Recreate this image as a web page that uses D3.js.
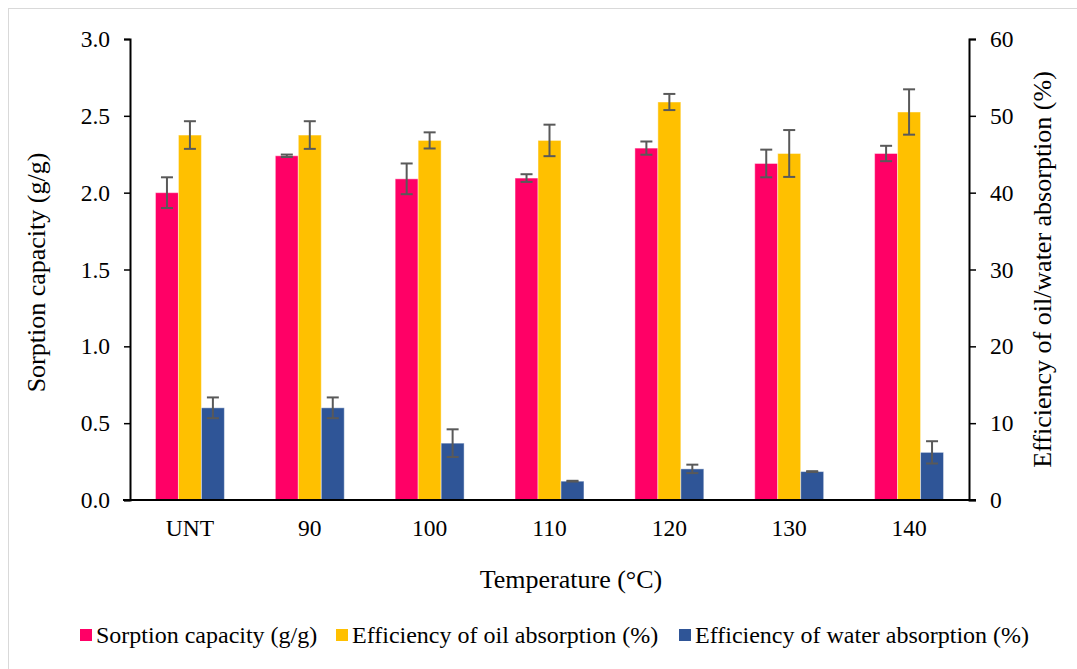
<!DOCTYPE html>
<html>
<head>
<meta charset="utf-8">
<script src="https://cdn.jsdelivr.net/npm/d3@7"></script>
<style>
  html, body { margin: 0; padding: 0; background: #fff; }
  svg { display: block; }
  text { font-family: "Liberation Serif", "Times New Roman", serif; fill: #000; }
</style>
</head>
<body>
<svg id="chart" width="1077" height="669"></svg>
<script>
// ---- data ----
const categories = ["UNT", "90", "100", "110", "120", "130", "140"];
const sorptionCapacity = [2.00, 2.24, 2.09, 2.095, 2.29, 2.19, 2.255];
const sorptionErr      = [0.10, 0.008, 0.10, 0.025, 0.043, 0.09, 0.05];
const oilEfficiency    = [47.5, 47.5, 46.8, 46.8, 51.8, 45.1, 50.5];
const oilErr           = [1.8, 1.8, 1.05, 2.05, 1.05, 3.05, 2.95];
const waterEfficiency  = [12.0, 12.0, 7.4, 2.45, 4.05, 3.7, 6.2];
const waterErr         = [1.35, 1.35, 1.8, 0.05, 0.55, 0.05, 1.45];
const leftTicks  = [0, 0.5, 1.0, 1.5, 2.0, 2.5, 3.0];
const rightTicks = [0, 10, 20, 30, 40, 50, 60];
const seriesNames = ["Sorption capacity (g/g)", "Efficiency of oil absorption (%)", "Efficiency of water absorption (%)"];
const seriesColors = ["#FF0066", "#FFC000", "#2F5597"];

// ---- layout ----
const svg = d3.select("#chart");
const plot = { left: 130, right: 969, top: 39, bottom: 500 };

svg.append("rect")
  .attr("x", 8.5).attr("y", 8.5).attr("width", 1080).attr("height", 680)
  .attr("fill", "#fff").attr("stroke", "#D9D9D9").attr("stroke-width", 1);

const x = d3.scaleBand().domain(categories).range([plot.left, plot.right]).paddingInner(0).paddingOuter(0);
const groupW = x.bandwidth() * 0.575;
const xs = d3.scaleBand().domain([0, 1, 2]).range([0, groupW]);
const yL = d3.scaleLinear().domain([0, 3]).range([plot.bottom, plot.top]);
const yR = d3.scaleLinear().domain([0, 60]).range([plot.bottom, plot.top]);

const series = [
  { vals: sorptionCapacity, err: sorptionErr, scale: yL },
  { vals: oilEfficiency, err: oilErr, scale: yR },
  { vals: waterEfficiency, err: waterErr, scale: yR }
];

const g = svg.append("g");
series.forEach((s, si) => {
  categories.forEach((c, i) => {
    const bx = x(c) + (x.bandwidth() - groupW) / 2 + xs(si);
    g.append("rect")
      .attr("x", bx).attr("y", s.scale(s.vals[i]))
      .attr("width", xs.bandwidth()).attr("height", plot.bottom - s.scale(s.vals[i]))
      .attr("fill", seriesColors[si])
      .attr("stroke", "rgba(255,255,255,0.45)").attr("stroke-width", 1);
  });
});

// error bars
series.forEach((s, si) => {
  categories.forEach((c, i) => {
    const cx = x(c) + (x.bandwidth() - groupW) / 2 + xs(si) + xs.bandwidth() / 2;
    const yt = s.scale(s.vals[i] + s.err[i]);
    const yb = s.scale(s.vals[i] - s.err[i]);
    const eg = g.append("g").attr("stroke", "#595959").attr("stroke-width", 2);
    eg.append("line").attr("x1", cx).attr("x2", cx).attr("y1", yt).attr("y2", yb);
    eg.append("line").attr("x1", cx - 6).attr("x2", cx + 6).attr("y1", yt).attr("y2", yt);
    eg.append("line").attr("x1", cx - 6).attr("x2", cx + 6).attr("y1", yb).attr("y2", yb);
  });
});

// axes
const leftAxis = d3.axisLeft(yL).tickValues(leftTicks).tickFormat(d3.format(".1f")).tickSizeOuter(0).tickSize(6).tickPadding(14);
const rightAxis = d3.axisRight(yR).tickValues(rightTicks).tickFormat(d3.format("d")).tickSizeOuter(0).tickSize(7).tickPadding(14);
const bottomAxis = d3.axisBottom(x).tickSize(0).tickPadding(19);

function styleAxis(sel) {
  sel.select(".domain").attr("stroke", "#000").attr("stroke-width", 2);
  sel.selectAll(".tick line").attr("stroke", "#000").attr("stroke-width", 1.5);
  sel.selectAll(".tick text").style("font-family", "Liberation Serif, serif").style("font-size", "23.5px").attr("fill", "#000");
}

svg.append("g").attr("transform", `translate(${plot.left},0)`).call(leftAxis).call(styleAxis);
svg.append("g").attr("transform", `translate(${plot.right},0)`).call(rightAxis).call(styleAxis);
const bx = svg.append("g").attr("transform", `translate(0,${plot.bottom})`).call(bottomAxis).call(styleAxis);
bx.select(".domain").attr("d", `M${plot.left - 7},0H${plot.right + 7}`);

// titles
svg.append("text")
  .attr("transform", `translate(36,${(plot.top + plot.bottom) / 2 + 3}) rotate(-90)`)
  .attr("text-anchor", "middle").attr("dy", "0.35em")
  .style("font-size", "26px").text("Sorption capacity (g/g)");
svg.append("text")
  .attr("transform", `translate(1042,${(plot.top + plot.bottom) / 2}) rotate(-90)`)
  .attr("text-anchor", "middle").attr("dy", "0.35em")
  .style("font-size", "26px").text("Efficiency of oil/water absorption (%)");
svg.append("text")
  .attr("x", 571).attr("y", 588).attr("text-anchor", "middle")
  .style("font-size", "26px").text("Temperature (°C)");

// legend
const legendX = [80, 336, 679];
const lg = svg.append("g");
seriesNames.forEach((n, i) => {
  lg.append("rect").attr("x", legendX[i]).attr("y", 629).attr("width", 12).attr("height", 12).attr("fill", seriesColors[i]);
  lg.append("text").attr("x", legendX[i] + 16).attr("y", 643).style("font-size", "24px").text(n);
});
</script>
</body>
</html>
